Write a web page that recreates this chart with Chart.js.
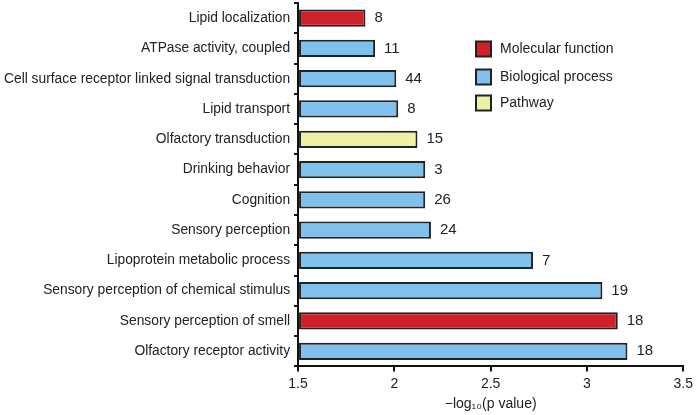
<!DOCTYPE html>
<html>
<head>
<meta charset="utf-8">
<script src="https://cdn.jsdelivr.net/npm/chart.js@4"></script>
<style>
  body { margin: 0; background: #fff; }
  #wrap { width: 697px; height: 415px; }
</style>
</head>
<body>
<div id="wrap"><canvas id="goChart" width="697" height="415"></canvas></div>
<script>
const categories = [
  'Lipid localization',
  'ATPase activity, coupled',
  'Cell surface receptor linked signal transduction',
  'Lipid transport',
  'Olfactory transduction',
  'Drinking behavior',
  'Cognition',
  'Sensory perception',
  'Lipoprotein metabolic process',
  'Sensory perception of chemical stimulus',
  'Sensory perception of smell',
  'Olfactory receptor activity'
];

// -log10(p value)
const values = [1.85, 1.90, 2.01, 2.02, 2.12, 2.16, 2.16, 2.19, 2.72, 3.08, 3.16, 3.21];

// gene counts shown next to each bar
const counts = [8, 11, 44, 8, 15, 3, 26, 24, 7, 19, 18, 18];

// 0 = Molecular function, 1 = Biological process, 2 = Pathway
const groups = [0, 1, 1, 1, 2, 1, 1, 1, 1, 1, 0, 1];

const groupNames = ['Molecular function', 'Biological process', 'Pathway'];
const groupColors = ['#d0202a', '#80c0ec', '#eef0a2'];

const xTicks = [1.5, 2, 2.5, 3, 3.5];

const font = "'Liberation Sans', Arial, sans-serif";

// count labels at the end of each bar
const countLabels = {
  id: 'countLabels',
  afterDatasetsDraw(chart) {
    const ctx = chart.ctx;
    const meta = chart.getDatasetMeta(0);
    ctx.save();
    ctx.font = '15px ' + font;
    ctx.fillStyle = '#222';
    ctx.textAlign = 'left';
    ctx.textBaseline = 'middle';
    meta.data.forEach((bar, i) => {
      ctx.fillText(String(counts[i]), bar.x + 9, bar.y);
    });
    ctx.restore();
  }
};

// legend box in the upper right of the plot
const groupLegend = {
  id: 'groupLegend',
  afterDraw(chart) {
    const ctx = chart.ctx;
    const x = 476;
    const ys = [49, 77, 103];
    ctx.save();
    ctx.font = '14px ' + font;
    ctx.textBaseline = 'middle';
    groupNames.forEach((name, i) => {
      ctx.fillStyle = groupColors[i];
      ctx.fillRect(x, ys[i] - 7.5, 15, 15);
      ctx.strokeStyle = '#222';
      ctx.lineWidth = 2;
      ctx.strokeRect(x, ys[i] - 7.5, 15, 15);
      ctx.fillStyle = '#222';
      ctx.fillText(name, x + 24, ys[i]);
    });
    ctx.restore();
  }
};

new Chart(document.getElementById('goChart').getContext('2d'), {
  type: 'bar',
  data: {
    labels: categories,
    datasets: [{
      data: values,
      base: 1.5,
      backgroundColor: groups.map(g => groupColors[g]),
      borderColor: '#222',
      borderWidth: 2,
      borderSkipped: false,
      barPercentage: 0.57,
      categoryPercentage: 1
    }]
  },
  options: {
    indexAxis: 'y',
    responsive: false,
    animation: false,
    layout: {
      padding: { top: 3, right: 12, bottom: 2, left: 0 }
    },
    plugins: {
      legend: { display: false },
      tooltip: { enabled: false }
    },
    scales: {
      x: {
        min: 1.5,
        max: 3.5,
        afterBuildTicks(axis) {
          axis.ticks = xTicks.map(v => ({ value: v }));
        },
        grid: {
          drawOnChartArea: false,
          color: '#111',
          tickLength: 5,
          lineWidth: 2
        },
        border: { color: '#111', width: 2 },
        ticks: {
          color: '#222',
          font: { family: font, size: 14 },
          padding: 4,
          maxRotation: 0,
          callback: v => String(v)
        },
        title: {
          display: true,
          text: '\u2212log\u2081\u2080(p value)',
          color: '#222',
          font: { family: font, size: 14 },
          padding: { top: 0, bottom: 0 }
        }
      },
      y: {
        afterFit(axis) {
          axis.paddingTop = 0;
          axis.paddingBottom = 0;
        },
        grid: {
          drawOnChartArea: false,
          offset: true,
          color: '#111',
          tickLength: 4,
          lineWidth: 2
        },
        border: { color: '#111', width: 2 },
        ticks: {
          color: '#222',
          font: { family: font, size: 13.8 },
          padding: 4
        }
      }
    }
  },
  plugins: [countLabels, groupLegend]
});
</script>
</body>
</html>
